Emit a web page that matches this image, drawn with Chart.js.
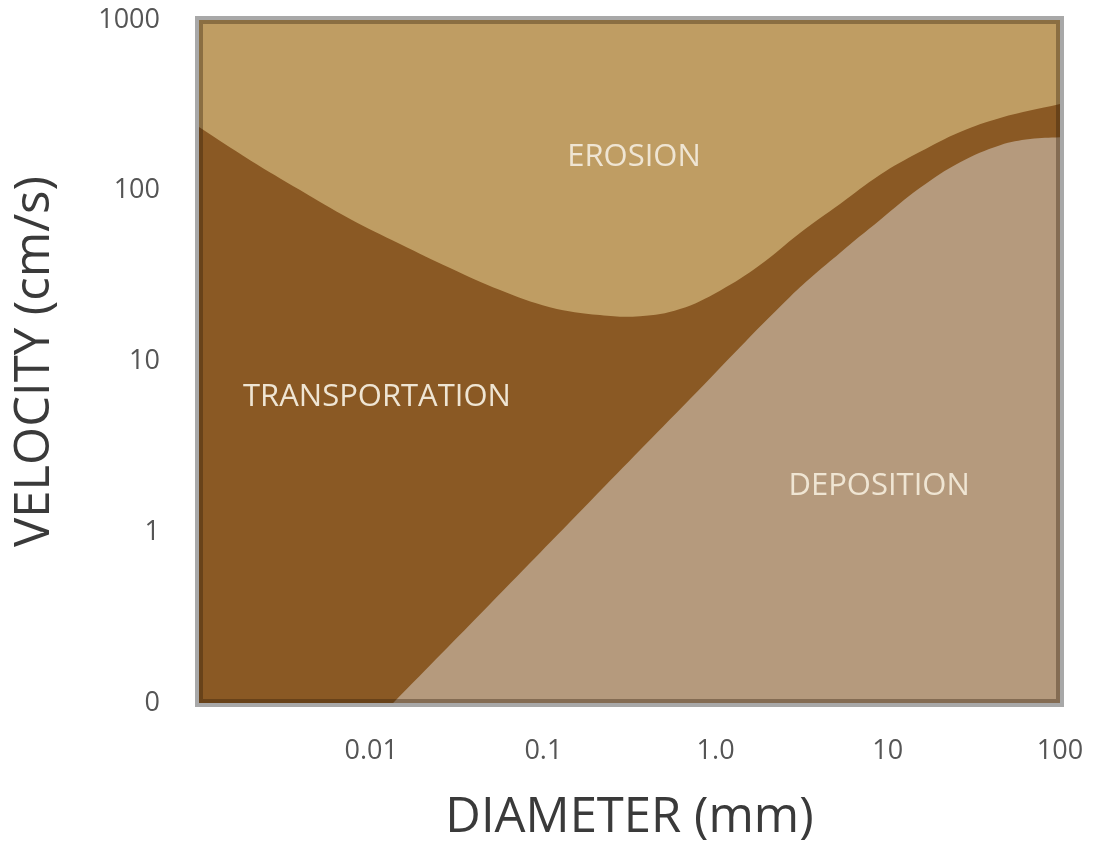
<!DOCTYPE html>
<html>
<head>
  <meta charset="UTF-8">
  <title>Hjulstrom Curve</title>
  <script src="https://cdn.jsdelivr.net/npm/chart.js"></script>
  <style>
    body { margin: 0; background: #fff; }
    canvas { display: block; }
  </style>
</head>
<body>

<canvas id="hjulChart" width="1094" height="849"></canvas>

<script>
  // erosion boundary (diameter mm, velocity cm/s)
  const erosionD = [0.001, 0.00198, 0.00386, 0.00754, 0.0147, 0.0287, 0.056, 0.109, 0.213, 0.364, 0.621, 1.06, 1.81, 3.09, 5.28, 9.02, 15.4, 26.3, 44.9, 100];
  const erosionV = [236, 151, 101, 68.3, 48.8, 35.3, 26.2, 20.8, 18.7, 18.4, 20.3, 26.0, 36.7, 56.6, 83.6, 124, 169, 221, 267, 322];

  // deposition boundary
  const depoD = [0.0134, 0.049, 0.187, 0.71, 2.7, 5.27, 9.01, 15.4, 26.3, 44.9, 67, 100];
  const depoV = [0.1, 0.38, 1.52, 6.03, 23.9, 43.2, 67.4, 104, 147, 185, 201, 206];

  const xTicks = [0.01, 0.1, 1, 10, 100];
  const xTickLabels = ['0.01', '0.1', '1.0', '10', '100'];
  const yTicks = [0.1, 1, 10, 100, 1000];
  const yTickLabels = ['0', '1', '10', '100', '1000'];

  const regionNames = ['EROSION', 'TRANSPORTATION', 'DEPOSITION'];
  const regionD = [0.336, 0.0108, 8.9];
  const regionV = [157, 6.2, 1.87];

  const erosionColor = '#bf9d63';
  const transportColor = '#8a5924';
  const depositionColor = '#b59a7d';

  const areaPlugin = {
    id: 'areaPlugin',
    beforeDatasetsDraw(chart) {
      const { ctx, chartArea: a } = chart;
      ctx.save();
      ctx.fillStyle = transportColor;
      ctx.fillRect(a.left, a.top, a.right - a.left, a.bottom - a.top);
      ctx.restore();
    },
    afterDatasetsDraw(chart) {
      const { ctx, chartArea: a, scales } = chart;
      ctx.save();
      // region names
      ctx.fillStyle = '#efe5d3';
      ctx.font = '31px "Open Sans"';
      ctx.textAlign = 'center';
      ctx.textBaseline = 'middle';
      regionNames.forEach((name, i) => {
        ctx.fillText(name, scales.x.getPixelForValue(regionD[i]), scales.y.getPixelForValue(regionV[i]));
      });
      // inner shade + outer frame
      ctx.strokeStyle = 'rgba(40,22,5,0.35)';
      ctx.lineWidth = 4;
      ctx.strokeRect(a.left + 2, a.top + 2, a.right - a.left - 4, a.bottom - a.top - 4);
      ctx.strokeStyle = '#a8a8a8';
      ctx.lineWidth = 4;
      ctx.strokeRect(a.left - 2, a.top - 2, a.right - a.left + 4, a.bottom - a.top + 4);
      ctx.restore();
    }
  };

  const chart = new Chart(document.getElementById('hjulChart'), {
    type: 'line',
    data: {
      datasets: [
        {
          label: 'Erosion',
          data: erosionD.map((d, i) => ({ x: d, y: erosionV[i] })),
          backgroundColor: erosionColor,
          borderWidth: 0,
          pointRadius: 0,
          tension: 0.4,
          fill: 'end'
        },
        {
          label: 'Deposition',
          data: depoD.map((d, i) => ({ x: d, y: depoV[i] })),
          backgroundColor: depositionColor,
          borderWidth: 0,
          pointRadius: 0,
          tension: 0.4,
          fill: 'start'
        }
      ]
    },
    options: {
      responsive: false,
      animation: false,
      devicePixelRatio: 1,
      layout: { padding: { top: 20, right: 34, left: 0, bottom: 0 } },
      plugins: { legend: { display: false }, tooltip: { enabled: false } },
      scales: {
        x: {
          type: 'logarithmic',
          min: 0.001,
          max: 100,
          grid: { display: false },
          border: { display: false },
          afterBuildTicks: s => { s.ticks = xTicks.map(v => ({ value: v })); },
          afterFit: s => { s.height = 146; s.paddingLeft = 0; s.paddingRight = 0; },
          ticks: {
            autoSkip: false,
            maxRotation: 0,
            padding: 24,
            color: '#555',
            font: { family: 'Open Sans', size: 27 },
            callback: v => xTickLabels[xTicks.indexOf(v)]
          },
          title: {
            display: true,
            text: 'DIAMETER (mm)',
            color: '#3a3a3a',
            font: { family: 'Open Sans', size: 49 },
            padding: { top: 0, bottom: 2 }
          }
        },
        y: {
          type: 'logarithmic',
          min: 0.1,
          max: 1000,
          grid: { display: false },
          border: { display: false },
          afterBuildTicks: s => { s.ticks = yTicks.map(v => ({ value: v })); },
          afterFit: s => { s.width = 199; s.paddingTop = 0; s.paddingBottom = 0; },
          ticks: {
            autoSkip: false,
            padding: 31,
            color: '#555',
            font: { family: 'Open Sans', size: 27 },
            callback: v => yTickLabels[yTicks.indexOf(v)]
          },
          title: {
            display: true,
            text: 'VELOCITY (cm/s)',
            color: '#3a3a3a',
            font: { family: 'Open Sans', size: 49 },
            padding: { top: 6, bottom: 0 }
          }
        }
      }
    },
    plugins: [areaPlugin]
  });
</script>

</body>
</html>
